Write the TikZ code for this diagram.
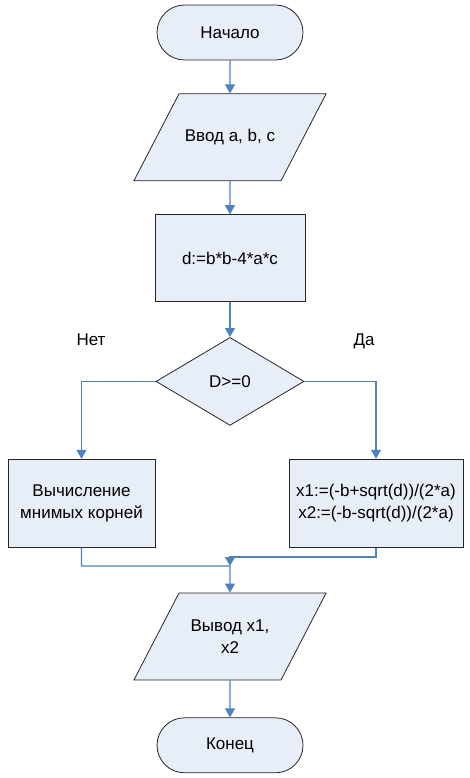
\documentclass[tikz,border=0pt]{standalone}
\usepackage{fontspec}
\setmainfont{Liberation Sans}
\usepackage{tikz}
\usetikzlibrary{arrows.meta, positioning, shapes.geometric, shapes.misc}
\definecolor{box_fill}{RGB}{232, 238, 247}
\definecolor{link_col}{RGB}{79, 129, 189}
\newcommand{\IOTEXT}[1]{\parbox[c][83pt][c]{98pt}{\centering #1}}

\begin{document}
\begin{tikzpicture}[
    x=1pt, y=-1pt,
    every node/.style={font=\fontsize{17}{22}\selectfont},
    base/.style={draw=black!85, line width=0.8pt, fill=box_fill, align=center, inner sep=2pt},
    term/.style={base, rounded rectangle, minimum width=150pt, minimum height=55pt},
    io/.style={base, trapezium, trapezium left angle=62.6, trapezium right angle=117.4,
               trapezium stretches body},
    proc/.style={base, rectangle, minimum width=150pt, minimum height=87pt},
    cond/.style={base, diamond, minimum width=148pt, minimum height=88pt, inner sep=0pt},
    conn/.style={draw=link_col, line width=1.1pt, -{Triangle[length=9pt, width=10pt]}},
]
  \useasboundingbox (0,0) rectangle (470,778);

  \node[term] (start) at (230,32.5) {Начало};
  \node[io, below=33pt of start] (input) {\IOTEXT{Ввод a, b, c}};
  \node[proc, below=33pt of input] (disc) {d:=b*b-4*a*c};
  \node[cond, below=35pt of disc] (check) {D>=0};

  \node[proc, minimum width=147pt, minimum height=88pt, below=33pt of check, xshift=-148.5pt] (imag) {Вычисление\\мнимых корней};
  \node[proc, minimum width=174pt, minimum height=88pt, below=33pt of check, xshift=146pt] (roots) {x1:=(-b+sqrt(d))/(2*a)\\x2:=(-b-sqrt(d))/(2*a)};

  \node at (91,340) (no) {Нет};
  \node at (364,341) (yes) {Да};

  \coordinate (mid) at (230,557);
  \coordinate (join) at (230,566);

  \node[io] (output) at (230,636.5) {\IOTEXT{Вывод x1,\\x2}};
  \node[term, below=37pt of output] (stop) {Конец};

  % main line
  \draw[conn] (start) -- (input);
  \draw[conn] (input) -- (disc);
  \draw[conn] (disc) -- (check);

  % branches
  \draw[conn] (check.west) -| (imag);
  \draw[conn] (check.east) -| (roots);
  \draw[conn] (roots.south) |- (mid) -- (join);
  \draw[conn] (imag.south) |- (join) -- (output);
  \draw[conn] (output) -- (stop);
\end{tikzpicture}
\end{document}
